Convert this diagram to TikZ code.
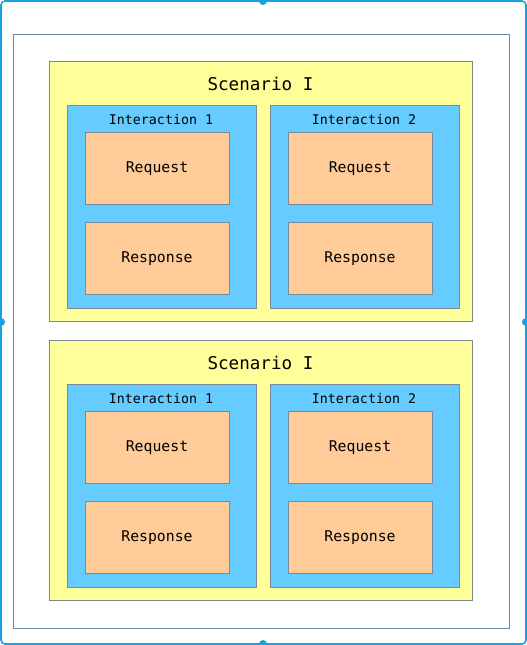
\documentclass[tikz,border=0pt]{standalone}
\usepackage{fontspec}
\setmainfont{DejaVu Sans Mono}
\definecolor{selblue}{HTML}{1BA1E2}
\definecolor{framegray}{HTML}{6C87A0}
\definecolor{scenfill}{HTML}{FFFF99}
\definecolor{intfill}{HTML}{66CCFF}
\definecolor{msgfill}{HTML}{FFCC99}
\definecolor{edge}{HTML}{7A8A9A}
\tikzset{
  scenbox/.style={draw=edge!80!gray, fill=scenfill, line width=0.9pt},
  intbox/.style={draw=edge, fill=intfill, line width=0.9pt},
  msgbox/.style={draw=edge, fill=msgfill, line width=0.9pt},
  scentext/.style={font=\fontsize{17.6}{20}\selectfont, text=black},
  inttext/.style={font=\fontsize{13.3}{15}\selectfont, text=black},
  msgtext/.style={font=\fontsize{14.8}{17}\selectfont, text=black},
  handle/.style={fill=selblue, draw=none},
}
\begin{document}
\begin{tikzpicture}[x=1pt,y=-1pt]
\useasboundingbox (0,0) rectangle (527,645);
\fill[white] (0,0) rectangle (527,645);
% selection frame
\draw[selblue, line width=1.6pt, rounded corners=4pt] (1,1) rectangle (526,644);
\foreach \p in {(263,1),(1,322),(526,322),(263,644)} \fill[handle] \p circle (4);
% container
\draw[framegray, line width=0.9pt, fill=white] (13,34) rectangle (509,628);
\foreach \dy/\s in {0/a,279/b} {
  \begin{scope}[yshift=-\dy]
    \draw[scenbox] (49,61) rectangle (472,321);
    \node[scentext] (scen\s) at (260.5,84) {Scenario I};
    \foreach \dx/\i in {0/1,203/2} {
      \begin{scope}[xshift=\dx]
        \draw[intbox] (67,105) rectangle (256,308);
        \node[inttext] (int\s\i) at (161,120) {Interaction \i};
        \draw[msgbox] (85,132) rectangle (229,204);
        \node[msgtext] (req\s\i) at (157,168.5) {Request};
        \draw[msgbox] (85,222) rectangle (229,294);
        \node[msgtext] (res\s\i) at (157,258.5) {Response};
      \end{scope}
    }
  \end{scope}
}
\end{tikzpicture}
\end{document}
